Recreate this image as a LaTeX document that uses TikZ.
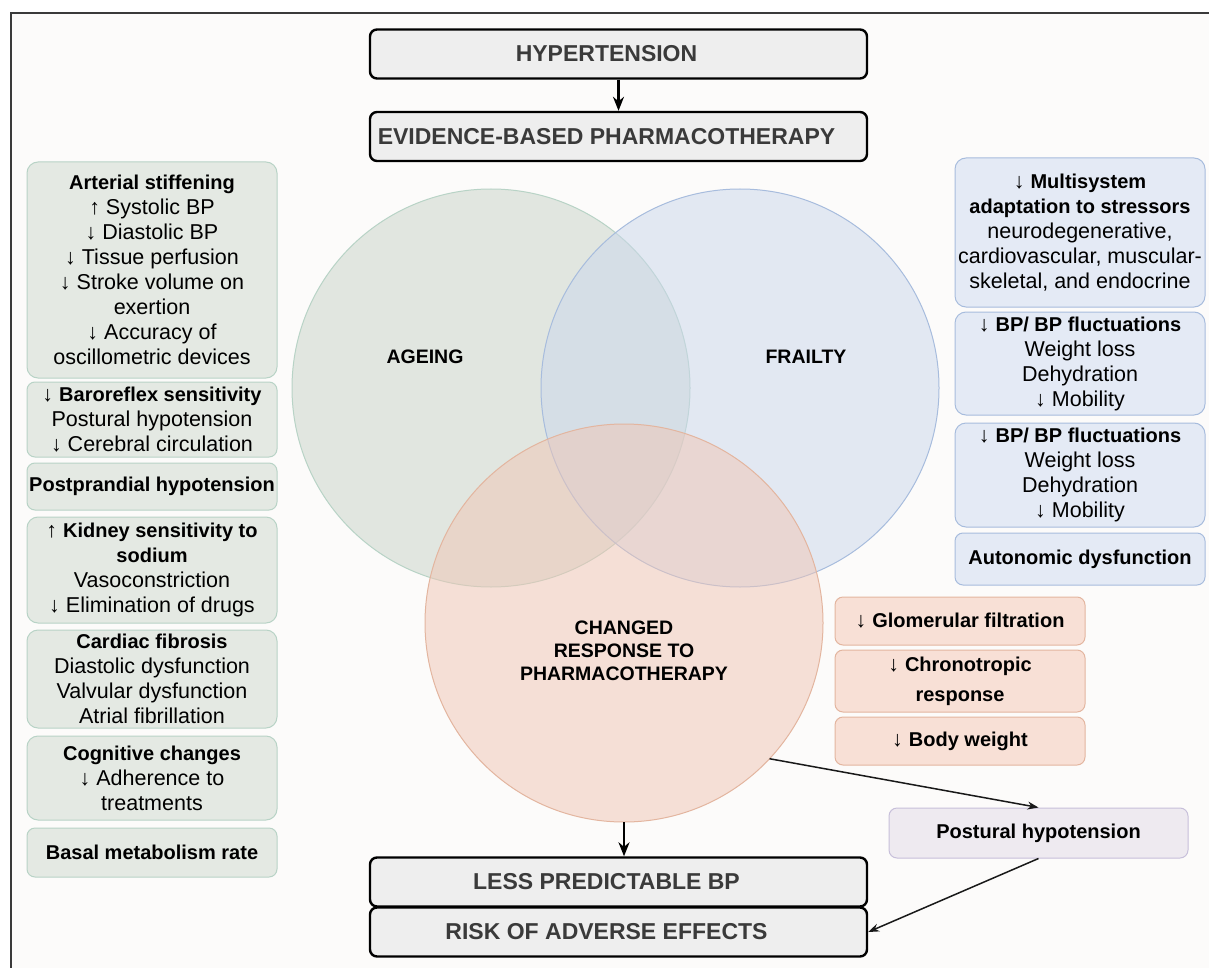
\documentclass[tikz,border=0pt]{standalone}
\usepackage{fontspec}
\setmainfont{Liberation Sans}
\usepackage{tikz}
\usetikzlibrary{arrows.meta}
\definecolor{bg}{HTML}{FCFBFA}
\definecolor{framec}{HTML}{3A3A3A}
\definecolor{ttlbg}{HTML}{EEEEEE}
\definecolor{ttltext}{HTML}{3A3A3A}
\definecolor{agebg}{HTML}{E4E9E3}
\definecolor{ageline}{HTML}{B8D3C6}
\definecolor{agec}{HTML}{C8D3C8}
\definecolor{frailbg}{HTML}{E4EAF5}
\definecolor{frailline}{HTML}{A7BCDD}
\definecolor{frailc}{HTML}{CAD7EC}
\definecolor{respbg}{HTML}{F8E0D6}
\definecolor{respline}{HTML}{E3B59F}
\definecolor{respc}{HTML}{F0C5B4}
\definecolor{postbg}{HTML}{EEEAF0}
\definecolor{postline}{HTML}{C7BFDA}
\newcommand\hd[1]{{\fontsize{20}{25}\selectfont\bfseries #1}}
\tikzset{
  frame/.style={draw=framec, line width=2.5pt},
  ttl/.style={draw=black, fill=ttlbg, line width=2.4pt, rounded corners=7pt,
    minimum width=497pt, minimum height=49pt, inner sep=0pt},
  ttltxt/.style={text=ttltext, font=\fontsize{23}{27}\selectfont\bfseries},
  side/.style={line width=1pt, rounded corners=11pt, minimum width=250pt,
    inner sep=1pt, align=center, text=black, font=\fontsize{21.5}{25}\selectfont},
  agebox/.style={side, draw=ageline, fill=agebg},
  frailbox/.style={side, draw=frailline, fill=frailbg},
  respbox/.style={side, draw=respline, fill=respbg, rounded corners=8pt},
  postbox/.style={side, draw=postline, fill=postbg, rounded corners=8pt,
    minimum width=299pt, minimum height=50pt},
  venn/.style={circle, minimum size=398pt, inner sep=0pt, outer sep=0pt,
    line width=1pt, fill opacity=0.5},
  vlab/.style={align=center, font=\fontsize{19.5}{23}\selectfont\bfseries},
  bigarr/.style={draw=black, line width=2.4pt, -{Stealth[length=14pt, width=11pt]}},
  thinarr/.style={draw=black!90, line width=1.5pt, -{Stealth[length=11pt, width=8pt]}},
}
\begin{document}
\begin{tikzpicture}[x=1pt, y=-1pt]
  \useasboundingbox (0,0) rectangle (1209,968);
  \fill[bg] (11,13) rectangle (1209,968);
  \draw[frame] (11,968) -- (11,13) -- (1209,13);

  % top
  \node[ttl, label={[ttltxt, xshift=-12pt]center:HYPERTENSION}] (hyp) at (618.5,54) {};
  \node[ttl, label={[ttltxt, xshift=-12pt]center:EVIDENCE-BASED PHARMACOTHERAPY}] (evid) at (618.5,136.5) {};
  \draw[bigarr] (hyp) -- (evid);

  % venn
  \node[venn, fill=agec, draw=ageline] (age) at (491,388) {};
  \node[venn, fill=frailc, draw=frailline] (frail) at (740,388) {};
  \node[venn, fill=respc, draw=respline] (resp) at (624,623) {};
  \node[vlab] (agelab) at (425,357) {AGEING};
  \node[vlab] (fraillab) at (806,357) {FRAILTY};
  \node[vlab] (resplab) at (624,651) {CHANGED\\RESPONSE TO\\PHARMACOTHERAPY};

  % ageing column
  \node[agebox, minimum height=216pt] (art) at (152,270) {\hd{Arterial stiffening}\\↑ Systolic BP\\↓ Diastolic BP\\↓ Tissue perfusion\\↓ Stroke volume on\\exertion\\↓ Accuracy of\\oscillometric devices};
  \node[agebox, minimum height=75pt, rounded corners=8pt] (baro) at (152,419.5) {↓ \hd{Baroreflex sensitivity}\\Postural hypotension\\↓ Cerebral circulation};
  \node[agebox, minimum height=47pt, rounded corners=8pt] (prand) at (152,486.5) {\hd{Postprandial hypotension}};
  \node[agebox, minimum height=106pt] (kid) at (152,570) {↑ \hd{Kidney sensitivity to}\\\hd{sodium}\\Vasoconstriction\\↓ Elimination of drugs};
  \node[agebox, minimum height=98pt] (card) at (152,679) {\hd{Cardiac fibrosis}\\Diastolic dysfunction\\Valvular dysfunction\\Atrial fibrillation};
  \node[agebox, minimum height=84pt] (cogn) at (152,778) {\hd{Cognitive changes}\\↓ Adherence to\\treatments};
  \node[agebox, minimum height=49pt, rounded corners=8pt] (basal) at (152,852.5) {\hd{Basal metabolism rate}};

  % frailty column
  \node[frailbox, minimum height=149pt] (multi) at (1080,232.5) {↓ \hd{Multisystem}\\\hd{adaptation to stressors}\\neurodegenerative,\\cardiovascular, muscular-\\skeletal, and endocrine};
  \node[frailbox, minimum height=103pt] (bpa) at (1080,363.5) {↓ \hd{BP/ BP fluctuations}\\Weight loss\\Dehydration\\↓ Mobility};
  \node[frailbox, minimum height=104pt] (bpb) at (1080,475) {↓ \hd{BP/ BP fluctuations}\\Weight loss\\Dehydration\\↓ Mobility};
  \node[frailbox, minimum height=52pt, rounded corners=8pt] (auto) at (1080,559) {\hd{Autonomic dysfunction}};

  % response column
  \node[respbox, minimum height=48pt] (glom) at (960,621) {↓ \hd{Glomerular filtration}};
  \node[respbox, minimum height=62pt] (chrono) at (960,681) {↓ \hd{Chronotropic}\\[5pt]\hd{response}};
  \node[respbox, minimum height=48pt] (body) at (960,741) {↓ \hd{Body weight}};
  \node[postbox] (post) at (1038.5,833) {\hd{Postural hypotension}};

  % bottom
  \node[ttl, label={[ttltxt, xshift=-12pt]center:LESS PREDICTABLE BP}] (less) at (618.5,882) {};
  \node[ttl, label={[ttltxt, xshift=-12pt]center:RISK OF ADVERSE EFFECTS}] (risk) at (618.5,932) {};
  \draw[bigarr] (resp.south) -- (resp.south |- less.north);
  \draw[thinarr] (resp.-43.5) -- (post.north);
  \draw[thinarr] (post.south) -- (risk.east);
\end{tikzpicture}
\end{document}
